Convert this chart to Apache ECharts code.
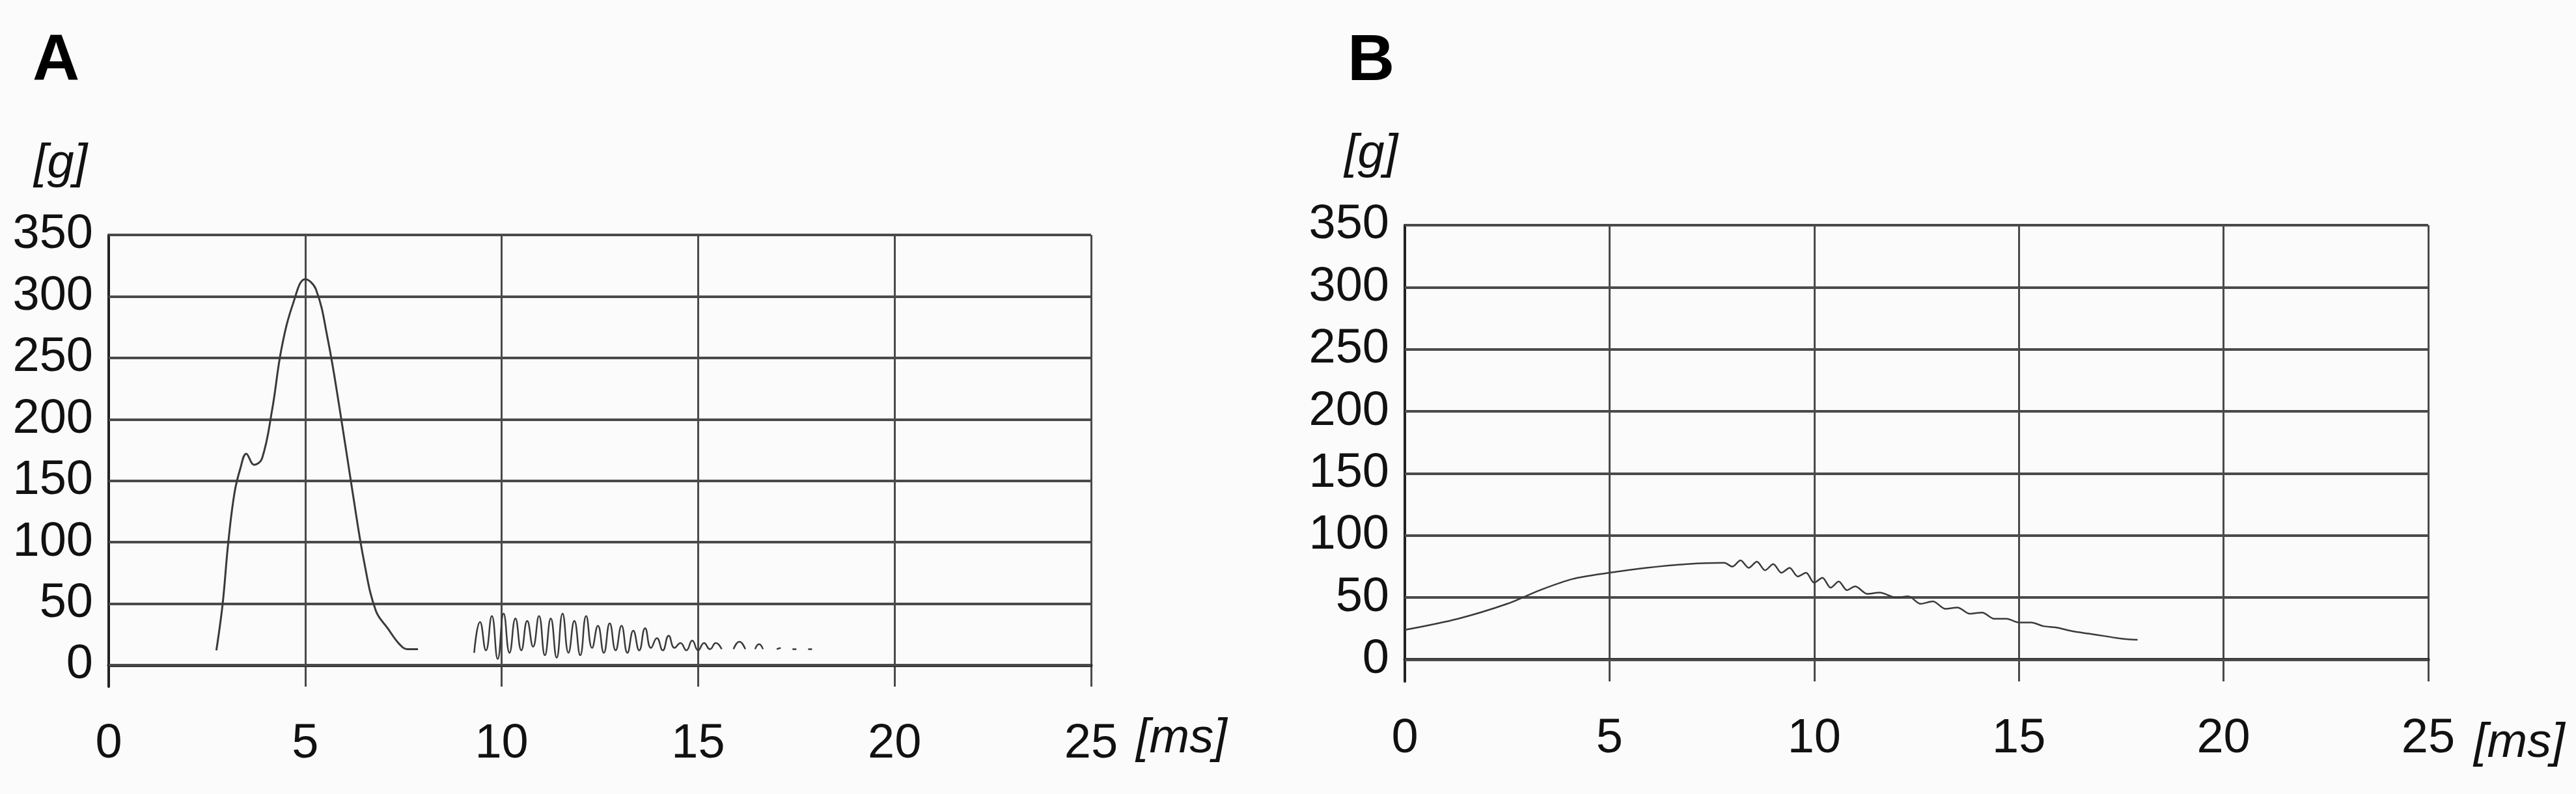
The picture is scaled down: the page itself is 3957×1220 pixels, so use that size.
<!DOCTYPE html>
<html>
<head>
<meta charset="utf-8">
<script src="https://cdn.jsdelivr.net/npm/echarts@6/dist/echarts.min.js"></script>
<style>
  html, body { margin: 0; padding: 0; background: #fbfbfb; }
  #chart { width: 3957px; height: 1220px; }
</style>
</head>
<body>
<div id="chart"></div>
<script>
// ticks
const yTicks = [0, 50, 100, 150, 200, 250, 300, 350];
const xTicks = [0, 5, 10, 15, 20, 25];

// panel A: main pulse [ms, g]
const pulseA = [
  [2.74, 12], [2.9, 50], [3.04, 99], [3.2, 140], [3.35, 160], [3.5, 172], [3.7, 163],
  [3.9, 168], [4.16, 208], [4.4, 258], [4.7, 295], [5.0, 314], [5.27, 306],
  [5.57, 266], [5.88, 208], [6.2, 142], [6.5, 84], [6.8, 44], [7.1, 30],
  [7.4, 17], [7.6, 13], [7.87, 13]
];

// panel A: ringing after the pulse (gaps where the trace breaks)
const ringA = [
  [9.3, 10], [9.45, 35], [9.6, 12], [9.75, 40], [9.9, 5], [10.05, 42], [10.2, 10],
  [10.35, 38], [10.5, 12], [10.65, 36], [10.8, 15], [10.95, 40], [11.1, 8],
  [11.25, 38], [11.4, 6], [11.55, 42], [11.7, 10], [11.85, 36], [12.0, 8],
  [12.15, 40], [12.3, 14], [12.45, 32], [12.6, 10], [12.75, 34], [12.9, 12],
  [13.05, 32], [13.2, 10], [13.35, 28], [13.5, 12], [13.65, 30], [13.8, 14],
  [13.95, 22], [14.1, 12], [14.25, 24], [14.4, 14], [14.55, 18], [14.7, 12],
  [14.85, 20], [15.0, 12], [15.15, 18], [15.3, 13], [15.45, 18], [15.6, 13],
  [15.7, null], [15.9, 13], [16.05, 19], [16.2, 13], [16.3, null],
  [16.45, 13], [16.55, 17], [16.65, 13], [16.8, null], [17.0, 13], [17.1, 14],
  [17.2, null], [17.4, 13], [17.5, 13], [17.6, null], [17.8, 13], [17.9, 13]
];

// panel B
const pulseB = [
  [0, 24], [1.3, 33], [2.5, 45], [3.3, 56], [4.1, 65], [5, 70], [5.9, 74],
  [6.9, 77], [7.8, 78], [8.0, 75], [8.2, 80], [8.4, 74], [8.6, 79], [8.8, 72],
  [9.0, 77], [9.2, 70], [9.4, 74], [9.6, 67], [9.8, 70], [10.0, 62], [10.2, 66],
  [10.4, 58], [10.6, 63], [10.8, 56], [11.0, 59], [11.3, 53], [11.6, 54],
  [12.0, 50], [12.3, 51], [12.6, 45], [12.9, 47], [13.2, 41], [13.5, 42],
  [13.8, 37], [14.1, 38], [14.4, 33], [14.7, 33], [15.0, 30], [15.3, 30],
  [15.6, 27], [15.9, 26], [16.3, 23], [16.7, 21], [17.1, 19], [17.5, 17], [17.9, 16]
];

const GRID = "#4a4a4a";
const LINE = "#3a3a3a";
const FONT = "Liberation Sans";
const FS = 74;

const chart = echarts.init(document.getElementById("chart"));

const xAxisOf = idx => ({
  type: "value", gridIndex: idx, min: 0, max: 25, interval: 5,
  axisLine: { show: true, lineStyle: { color: "#222", width: 5 } },
  axisTick: { show: false },
  splitLine: { show: true, lineStyle: { color: GRID, width: 3 } },
  axisLabel: { color: "#111", fontSize: FS, fontFamily: FONT, margin: 52 }
});

const yAxisOf = idx => ({
  type: "value", gridIndex: idx, min: -17.5, max: 350,
  axisLine: { show: true, lineStyle: { color: "#222", width: 4 } },
  axisTick: { show: false },
  splitLine: { show: false },
  axisLabel: { customValues: yTicks, color: "#111", fontSize: FS, fontFamily: FONT, margin: 24 }
});

const hLines = {
  silent: true, symbol: "none", label: { show: false },
  lineStyle: { color: GRID, width: 4, type: "solid" },
  data: yTicks.map(v => ({ yAxis: v }))
};

const lineSeries = (idx, data, extra) => Object.assign({
  type: "line", xAxisIndex: idx, yAxisIndex: idx, data: data,
  showSymbol: false, connectNulls: false,
  lineStyle: { color: LINE, width: 3 }, z: 5
}, extra || {});

const unit = (text, left, top) => ({
  type: "text", left: left, top: top,
  style: { text: text, fontSize: FS, fontStyle: "italic", fontFamily: FONT, fill: "#111" }
});

chart.setOption({
  backgroundColor: "#fbfbfb",
  animation: false,
  title: [
    { text: "A", left: 45, top: 40, textStyle: { fontSize: 100, fontWeight: "bold", fontFamily: FONT, color: "#000" } },
    { text: "B", left: 2065, top: 40, textStyle: { fontSize: 100, fontWeight: "bold", fontFamily: FONT, color: "#000" } }
  ],
  grid: [
    { left: 167, top: 361, width: 1509, height: 694 },
    { left: 2158, top: 346, width: 1572, height: 701 }
  ],
  xAxis: [xAxisOf(0), xAxisOf(1)],
  yAxis: [yAxisOf(0), yAxisOf(1)],
  graphic: [
    unit("[g]", 52, 215),
    unit("[ms]", 1745, 1098),
    unit("[g]", 2065, 200),
    unit("[ms]", 3800, 1105)
  ],
  series: [
    lineSeries(0, pulseA, { smooth: 0.4, markLine: hLines }),
    lineSeries(0, ringA, { smooth: 0.5, lineStyle: { color: LINE, width: 2.5 } }),
    lineSeries(1, pulseB, { smooth: 0.3, markLine: hLines, lineStyle: { color: LINE, width: 2.5 } })
  ]
});
</script>
</body>
</html>
